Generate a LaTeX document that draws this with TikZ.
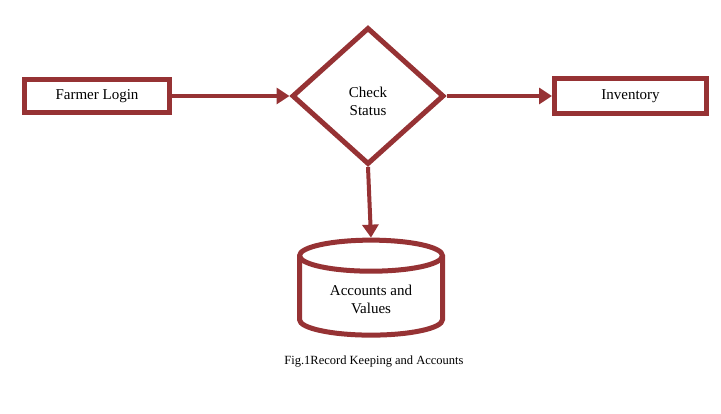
\documentclass[tikz,border=0pt]{standalone}
\usepackage{fontspec}
\setmainfont{Liberation Serif}
\usetikzlibrary{arrows.meta,shapes.geometric,shadows}

\definecolor{flowred}{RGB}{150,50,52}

\begin{document}
\begin{tikzpicture}[x=1pt,y=1pt,
  every node/.style={font=\fontsize{15}{18}\selectfont, align=center},
  procbox/.style={draw=flowred, line width=5pt, fill=white, rectangle, inner sep=2pt},
  decision/.style={draw=flowred, line width=5pt, fill=white, diamond, inner sep=0pt},
  store/.style={draw=flowred, line width=5pt, fill=white, cylinder, shape border rotate=90, aspect=0.35},
  flowarrow/.style={draw=flowred, line width=4pt, -{Triangle[length=13pt,width=16pt]}}]

% Canvas
\useasboundingbox (0,0) rectangle (721,414);

% Boxes
\node[procbox, minimum width=145pt, minimum height=33pt,
      drop shadow={shadow xshift=2pt, shadow yshift=-2pt, fill=gray!25, opacity=1}]
  (login) at (97,318) {Farmer Login};
\node[decision, minimum width=152pt, minimum height=137pt] (check) at (368,318)
  {\raisebox{-9pt}[0pt][0pt]{\parbox{60pt}{\centering Check\\Status}}};
\node[procbox, minimum width=152pt, minimum height=35pt] (inv) at (630.5,318) {Inventory};
\node[store, minimum width=143pt, minimum height=95pt] (acc) at (371,115) {Accounts and\\Values};

% Arrows
\draw[flowarrow] (login.east) -- (check.west);
\draw[flowarrow] (check.east) -- (inv.west);
\draw[flowarrow] (check.south) -- (acc.top);

% Caption
\node[font=\fontsize{12.5}{14}\selectfont] (cap) at (374,52) {Fig.1Record Keeping and Accounts};

\end{tikzpicture}
\end{document}
